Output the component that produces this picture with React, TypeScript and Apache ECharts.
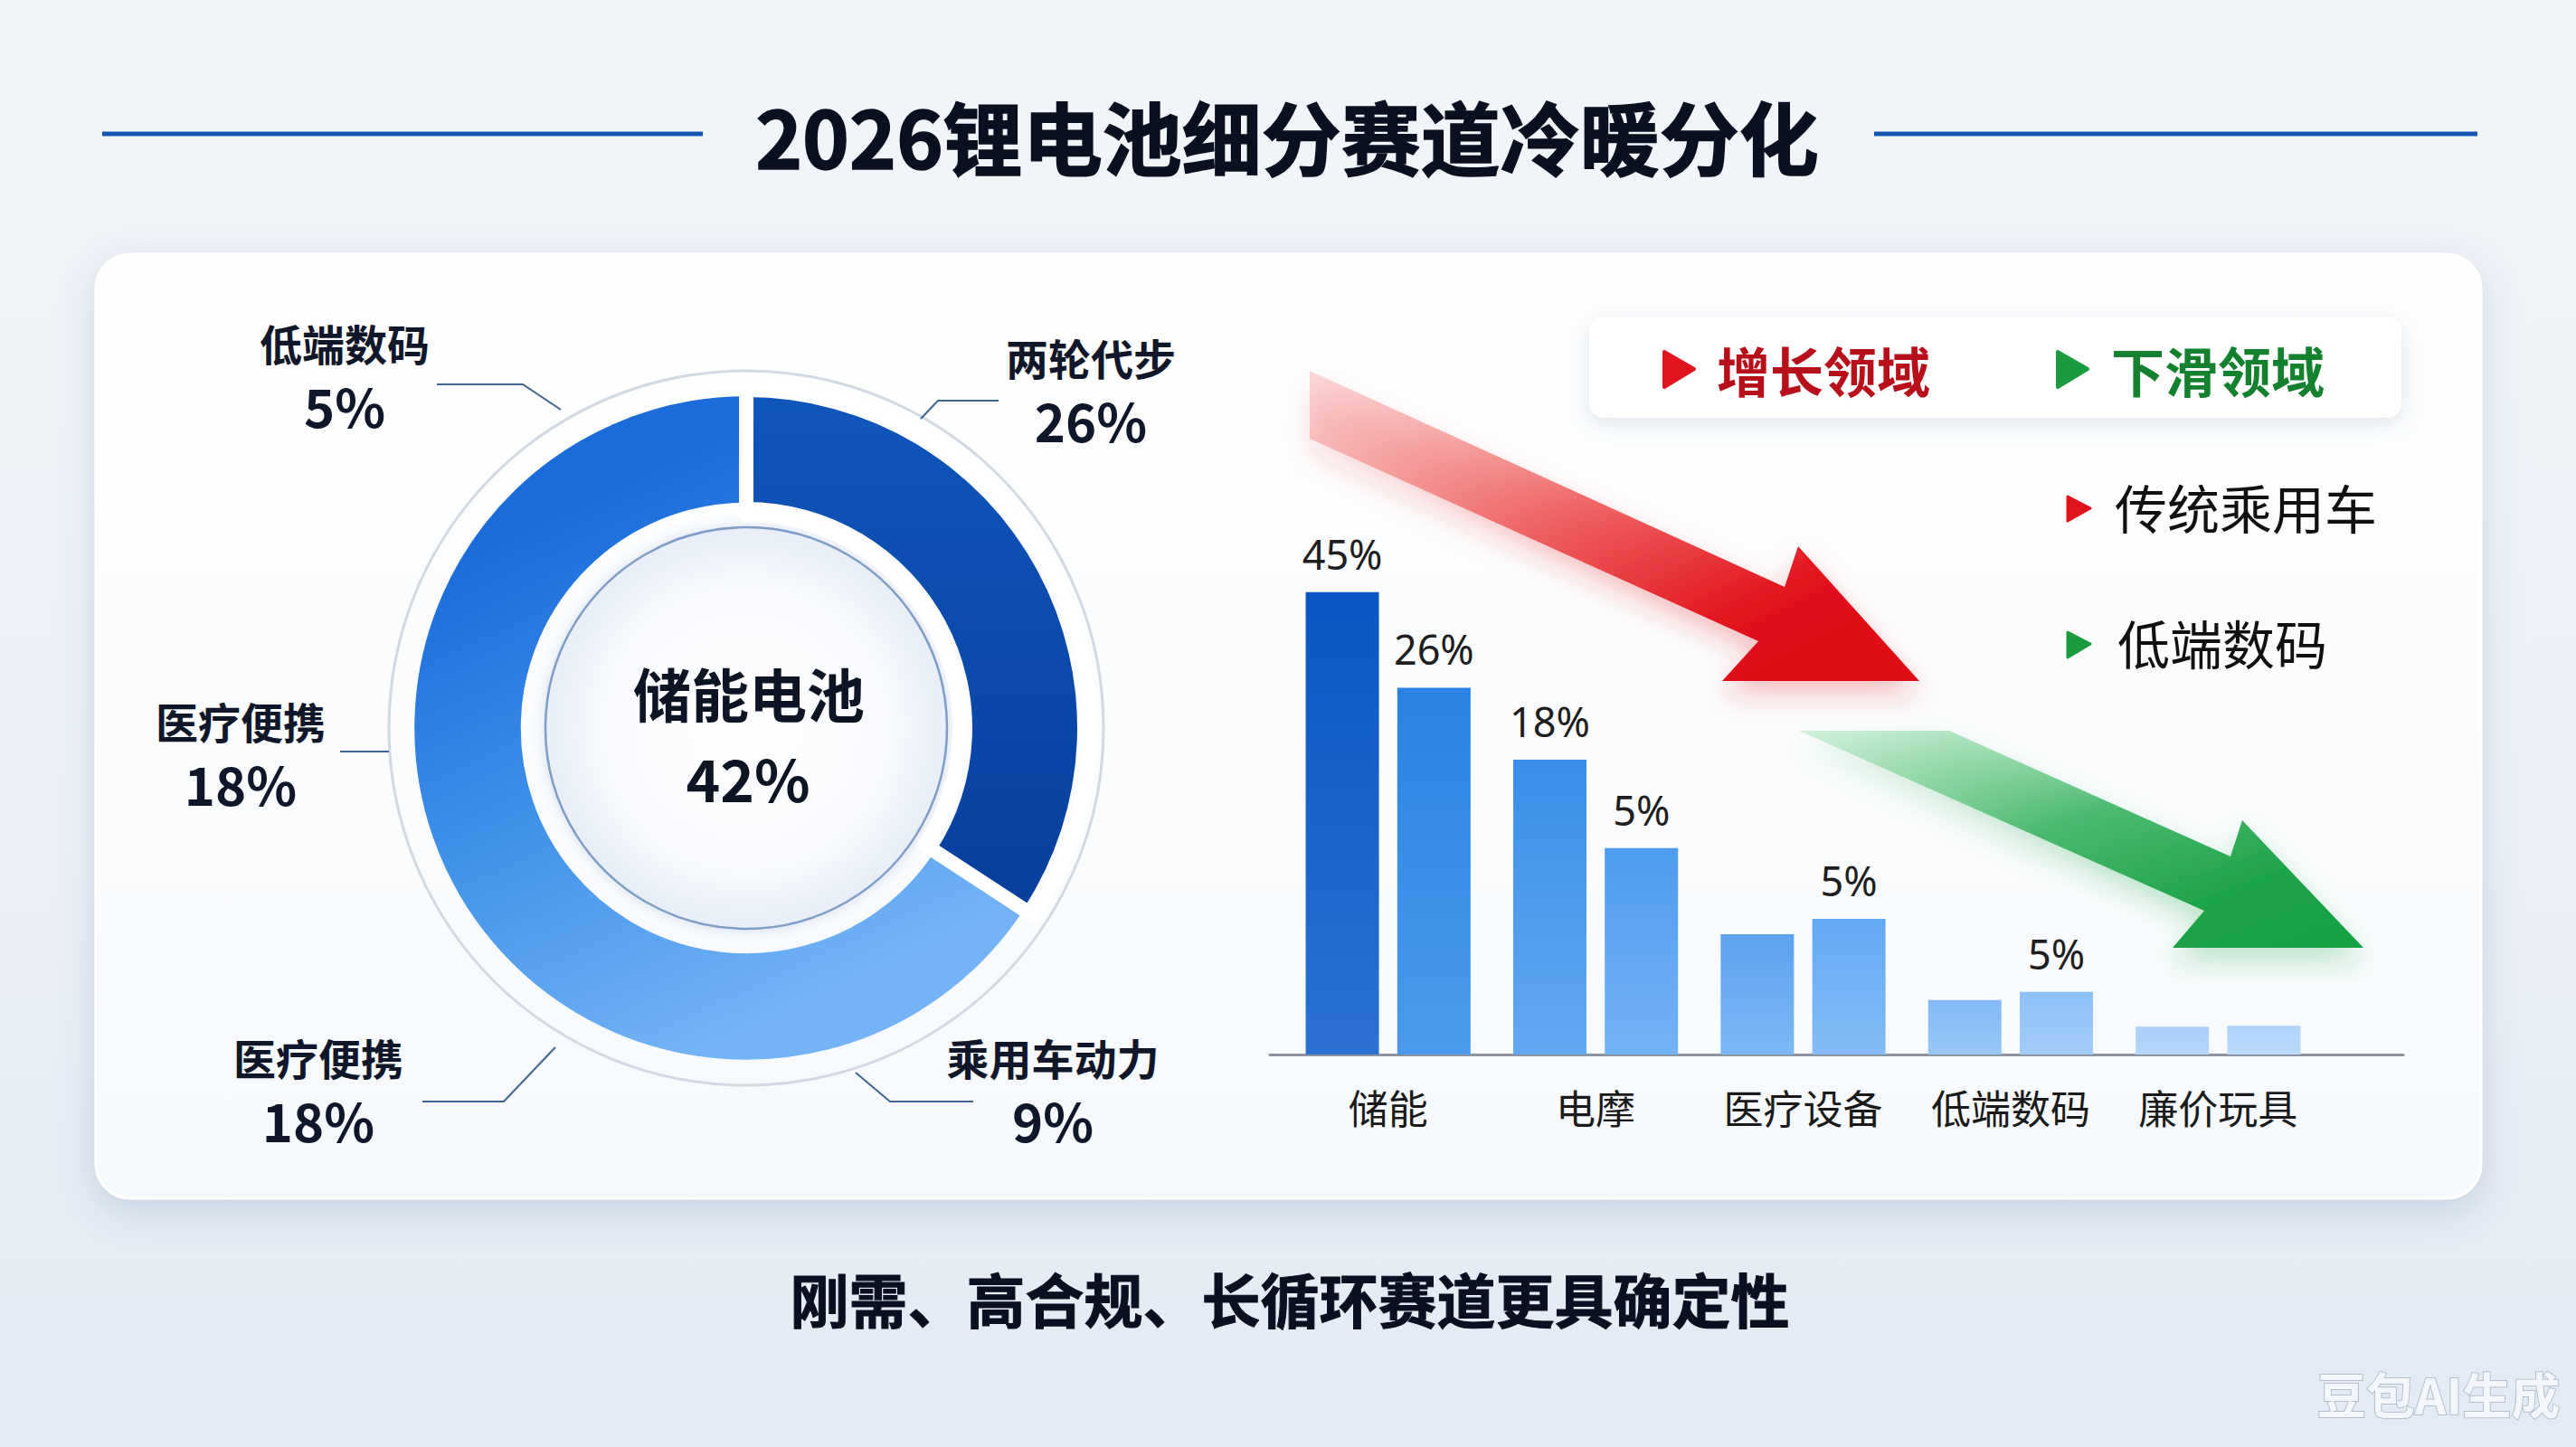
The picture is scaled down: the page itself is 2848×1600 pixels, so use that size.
import React, { useEffect, useRef } from 'react';
import * as echarts from 'echarts';

const W = 2848;
const H = 1600;
const CJK = '"Noto Sans CJK SC", "Noto Sans", sans-serif';

// ---------- texts ----------
const titleText = '2026锂电池细分赛道冷暖分化';
const footerText = '刚需、高合规、长循环赛道更具确定性';
const watermarkText = '豆包AI生成';

// ---------- donut data ----------
const donutNames = ['两轮代步', '乘用车动力', '医疗便携', '医疗便携', '低端数码'];
const donutValues = [26, 9, 18, 18, 5];
const centerName = '储能电池';
const centerValue = 42;

// ---------- bar data ----------
const barCategories = ['储能', '电摩', '医疗设备', '低端数码', '廉价玩具'];
const barValuesA = [45, 28.7, 11.7, 5.3, 2.7];
const barValuesB = [35.7, 20.1, 13.2, 6.1, 2.8];
const barLabelsA = ['45%', '18%', '', '', ''];
const barLabelsB = ['26%', '5%', '5%', '5%', ''];

// ---------- legend / trend texts ----------
const legendUp = '增长领域';
const legendDown = '下滑领域';
const upItem = '传统乘用车';
const downItem = '低端数码';

// ---------- styles ----------
const barColorsA = [
  ['#0a55c2', '#2a71d2'],
  ['#3a8eea', '#62a8f3'],
  ['#5ba3ee', '#7db8f6'],
  ['#84b9f6', '#98c7f9'],
  ['#a9cffa', '#b6d7fb'],
];
const barColorsB = [
  ['#2a82e2', '#4c9aee'],
  ['#4d9cf0', '#74b3f6'],
  ['#62aaf4', '#84bdf8'],
  ['#8ec0f8', '#a2cdfa'],
  ['#aed3fb', '#badafc'],
];

const DONUT_CENTER = [825, 805];

const pieLabelLayout = [
  { x: 1206, y: 432, line: [[1018, 463], [1037, 443], [1104, 443]] },
  { x: 1164, y: 1206, line: [[946, 1186], [984, 1218], [1076, 1218]] },
  { x: 352, y: 1206, line: [[614, 1158], [557, 1218], [467, 1218]] },
  { x: 266, y: 834, line: [[430, 831], [403, 831], [376, 831]] },
  { x: 381, y: 416, line: [[620, 453], [578, 425], [483, 425]] },
];

const vgrad = (c: string[]) => ({
  type: 'linear', x: 0, y: 0, x2: 0, y2: 1,
  colorStops: [{ offset: 0, color: c[0] }, { offset: 1, color: c[1] }],
});

function buildOption() {
  const ringGrad = {
    type: 'linear', x: 979, y: 1072, x2: 720, y2: 516, global: true,
    colorStops: [
      { offset: 0, color: '#74b4f6' },
      { offset: 0.5, color: '#4192ea' },
      { offset: 1, color: '#1b6bdb' },
    ],
  };
  const darkGrad = {
    type: 'linear', x: 0, y: 0, x2: 0, y2: 1,
    colorStops: [
      { offset: 0, color: '#0f56bb' },
      { offset: 1, color: '#073e9e' },
    ],
  };

  const LG = echarts.graphic.LinearGradient;
  const RG = echarts.graphic.RadialGradient;

  const graphic: any[] = [
    {
      type: 'rect', z: -10,
      shape: { x: 106, y: 281, width: 2637, height: 1044, r: 38 },
      style: {
        fill: new LG(0, 0, 0, 1, [
          { offset: 0, color: '#ffffff' },
          { offset: 1, color: '#f6f9fc' },
        ]),
        stroke: '#ffffff', lineWidth: 3,
        shadowBlur: 40, shadowOffsetY: 12, shadowColor: 'rgba(80,110,150,0.22)',
      },
    },
    { type: 'line', shape: { x1: 113, y1: 148, x2: 777, y2: 148 }, style: { stroke: '#1756ae', lineWidth: 5 } },
    { type: 'line', shape: { x1: 2072, y1: 148, x2: 2739, y2: 148 }, style: { stroke: '#1756ae', lineWidth: 5 } },
    {
      type: 'text', x: 1423, y: 148,
      style: { text: titleText, fontSize: 88, fontWeight: 'bold', fontFamily: CJK, fill: '#0b1020', stroke: '#0b1020', lineWidth: 1.5, align: 'center', verticalAlign: 'middle' },
    },
    {
      type: 'text', x: 1426, y: 1435,
      style: { text: footerText, fontSize: 65, fontWeight: 'bold', fontFamily: CJK, fill: '#0b1020', stroke: '#0b1020', lineWidth: 1, align: 'center', verticalAlign: 'middle' },
    },
    {
      type: 'text', x: 2696, y: 1540,
      style: { text: watermarkText, fontSize: 54, fontWeight: 'bold', fontFamily: CJK, fill: '#f3f6fa', stroke: '#b5bfcc', lineWidth: 2, align: 'center', verticalAlign: 'middle' },
    },
    // donut decorations
    {
      type: 'circle', shape: { cx: DONUT_CENTER[0], cy: DONUT_CENTER[1], r: 395 },
      style: { fill: 'none', stroke: '#d2d9e2', lineWidth: 3 },
    },
    {
      type: 'circle', shape: { cx: DONUT_CENTER[0], cy: DONUT_CENTER[1], r: 222 },
      style: {
        fill: new RG(0.5, 0.5, 0.5, [
          { offset: 0, color: '#ffffff' },
          { offset: 0.7, color: '#f8fafd' },
          { offset: 1, color: '#e7eef7' },
        ]),
        stroke: '#7f9dc6', lineWidth: 2.5,
        shadowBlur: 14, shadowColor: 'rgba(90,130,190,0.25)',
      },
    },
    {
      type: 'text', x: 828, y: 765,
      style: { text: centerName, fontSize: 64, fontWeight: 'bold', fontFamily: CJK, fill: '#0d1424', align: 'center', verticalAlign: 'middle' },
    },
    {
      type: 'text', x: 827, y: 859,
      style: { text: `${centerValue}%`, fontSize: 64, fontWeight: 'bold', fontFamily: CJK, fill: '#0d1424', align: 'center', verticalAlign: 'middle' },
    },
    // arrows
    {
      type: 'polygon',
      shape: { points: [[1448, 410], [1973, 649], [1988, 604], [2122, 753], [1904, 753], [1944, 709], [1448, 485]] },
      style: {
        fill: new LG(0, 0, 1, 1, [
          { offset: 0, color: 'rgba(248,160,160,0.4)' },
          { offset: 0.45, color: 'rgba(238,80,80,0.88)' },
          { offset: 0.75, color: '#e2121c' },
          { offset: 1, color: '#de0a14' },
        ]),
        shadowBlur: 30, shadowOffsetY: 14, shadowColor: 'rgba(230,40,50,0.3)',
      },
    },
    {
      type: 'polygon',
      shape: { points: [[1989, 808], [2155, 808], [2466, 947], [2479, 907], [2613, 1048], [2402, 1048], [2437, 1007]] },
      style: {
        fill: new LG(0, 0, 1, 1, [
          { offset: 0, color: 'rgba(150,225,170,0.4)' },
          { offset: 0.45, color: 'rgba(60,180,100,0.9)' },
          { offset: 0.75, color: '#1ea448' },
          { offset: 1, color: '#13a040' },
        ]),
        shadowBlur: 30, shadowOffsetY: 14, shadowColor: 'rgba(40,170,80,0.3)',
      },
    },
    // legend box
    {
      type: 'rect',
      shape: { x: 1757, y: 350, width: 898, height: 112, r: 16 },
      style: { fill: '#ffffff', shadowBlur: 24, shadowOffsetY: 6, shadowColor: 'rgba(90,120,160,0.2)' },
    },
    {
      type: 'polygon', shape: { points: [[1840, 389], [1873, 408], [1840, 428]] },
      style: { fill: '#e0141c', stroke: '#e0141c', lineWidth: 4, lineJoin: 'round' },
    },
    {
      type: 'text', x: 1898, y: 408,
      style: { text: legendUp, fontSize: 59, fontWeight: 'bold', fontFamily: CJK, fill: '#b8101b', align: 'left', verticalAlign: 'middle' },
    },
    {
      type: 'polygon', shape: { points: [[2275, 389], [2308, 408], [2275, 428]] },
      style: { fill: '#1a9c3e', stroke: '#1a9c3e', lineWidth: 4, lineJoin: 'round' },
    },
    {
      type: 'text', x: 2334, y: 408,
      style: { text: legendDown, fontSize: 59, fontWeight: 'bold', fontFamily: CJK, fill: '#14812f', align: 'left', verticalAlign: 'middle' },
    },
    {
      type: 'polygon', shape: { points: [[2286, 549], [2311, 562], [2286, 576]] },
      style: { fill: '#e0141c', stroke: '#e0141c', lineWidth: 3, lineJoin: 'round' },
    },
    {
      type: 'text', x: 2338, y: 560,
      style: { text: upItem, fontSize: 58, fontFamily: CJK, fill: '#111111', align: 'left', verticalAlign: 'middle' },
    },
    {
      type: 'polygon', shape: { points: [[2286, 699], [2311, 712], [2286, 727]] },
      style: { fill: '#1a9c3e', stroke: '#1a9c3e', lineWidth: 3, lineJoin: 'round' },
    },
    {
      type: 'text', x: 2341, y: 710,
      style: { text: downItem, fontSize: 58, fontFamily: CJK, fill: '#111111', align: 'left', verticalAlign: 'middle' },
    },
  ];

  return {
    animation: false,
    backgroundColor: 'transparent',
    graphic,
    grid: [
      { left: 1420, right: 281, top: 598, bottom: 434 },
      { left: 1404, right: 191, top: 598, bottom: 434 },
    ],
    xAxis: [
      {
        type: 'category', gridIndex: 0, data: barCategories,
        axisLine: { show: false }, axisTick: { show: false },
        axisLabel: { fontSize: 44, color: '#1a1a1a', fontFamily: CJK, margin: 36 },
      },
      {
        type: 'value', gridIndex: 1, min: 0, max: 1,
        axisLine: { show: true, lineStyle: { color: '#8d949d', width: 3 } },
        axisTick: { show: false }, axisLabel: { show: false }, splitLine: { show: false },
      },
    ],
    yAxis: [
      { type: 'value', gridIndex: 0, min: 0, max: 50, show: false, splitLine: { show: false } },
      { type: 'value', gridIndex: 1, min: 0, max: 1, show: false, splitLine: { show: false } },
    ],
    series: [
      {
        type: 'pie',
        center: DONUT_CENTER,
        radius: [250, 366],
        startAngle: 90,
        clockwise: true,
        avoidLabelOverlap: false,
        silent: true,
        emphasis: { disabled: true },
        data: donutNames.map((n, i) => ({
          name: n, value: donutValues[i],
          itemStyle: i === 0
            ? { color: darkGrad, borderWidth: 0 }
            : { color: ringGrad, borderColor: ringGrad, borderWidth: 1.5 },
        })),
        label: {
          show: true,
          position: 'outside',
          formatter: '{n|{b}}\n{v|{c}%}',
          align: 'center',
          rich: {
            n: { fontSize: 47, fontWeight: 'bold', fontFamily: CJK, color: '#10172a', lineHeight: 64, align: 'center' },
            v: { fontSize: 58, fontWeight: 'bold', fontFamily: CJK, color: '#10172a', lineHeight: 76, align: 'center' },
          },
        },
        labelLine: { show: true, lineStyle: { color: '#3d6591', width: 2 } },
        labelLayout: (p: any) => {
          const L = pieLabelLayout[p.dataIndex];
          return { x: L.x, y: L.y, align: 'center', verticalAlign: 'middle', labelLinePoints: L.line };
        },
      },
      {
        type: 'pie',
        center: DONUT_CENTER,
        radius: [236, 380],
        startAngle: 90,
        clockwise: true,
        silent: true,
        z: 3,
        emphasis: { disabled: true },
        label: { show: false },
        labelLine: { show: false },
        data: donutNames.map((n, i) => ({
          name: n, value: donutValues[i],
          itemStyle: { color: 'rgba(0,0,0,0)', borderColor: '#ffffff', borderWidth: i === 0 ? 16 : 0 },
        })),
      },
      {
        type: 'bar', xAxisIndex: 0, yAxisIndex: 0,
        barWidth: 81, barGap: '25%',
        silent: true,
        data: barValuesA.map((v, i) => ({ value: v, itemStyle: { color: vgrad(barColorsA[i]) } })),
        label: {
          show: true, position: 'top', distance: 20,
          formatter: (p: any) => barLabelsA[p.dataIndex],
          fontSize: 45, color: '#1e1e1e', fontFamily: '"Noto Sans", sans-serif',
        },
      },
      {
        type: 'bar', xAxisIndex: 0, yAxisIndex: 0,
        barWidth: 81, barGap: '25%',
        silent: true,
        data: barValuesB.map((v, i) => ({ value: v, itemStyle: { color: vgrad(barColorsB[i]) } })),
        label: {
          show: true, position: 'top', distance: 20,
          formatter: (p: any) => barLabelsB[p.dataIndex],
          fontSize: 45, color: '#1e1e1e', fontFamily: '"Noto Sans", sans-serif',
        },
      },
    ],
  };
}

export default function App() {
  const ref = useRef<HTMLDivElement>(null);
  useEffect(() => {
    if (!ref.current) return;
    const chart = echarts.init(ref.current, null, { renderer: 'svg', width: W, height: H });
    chart.setOption(buildOption() as any);
    return () => chart.dispose();
  }, []);
  return (
    <div
      ref={ref}
      style={{
        position: 'fixed', left: 0, top: 0, width: W, height: H,
        background: 'linear-gradient(180deg, #f2f5f9 0%, #edf1f7 55%, #e2eaf3 100%)',
      }}
    />
  );
}
